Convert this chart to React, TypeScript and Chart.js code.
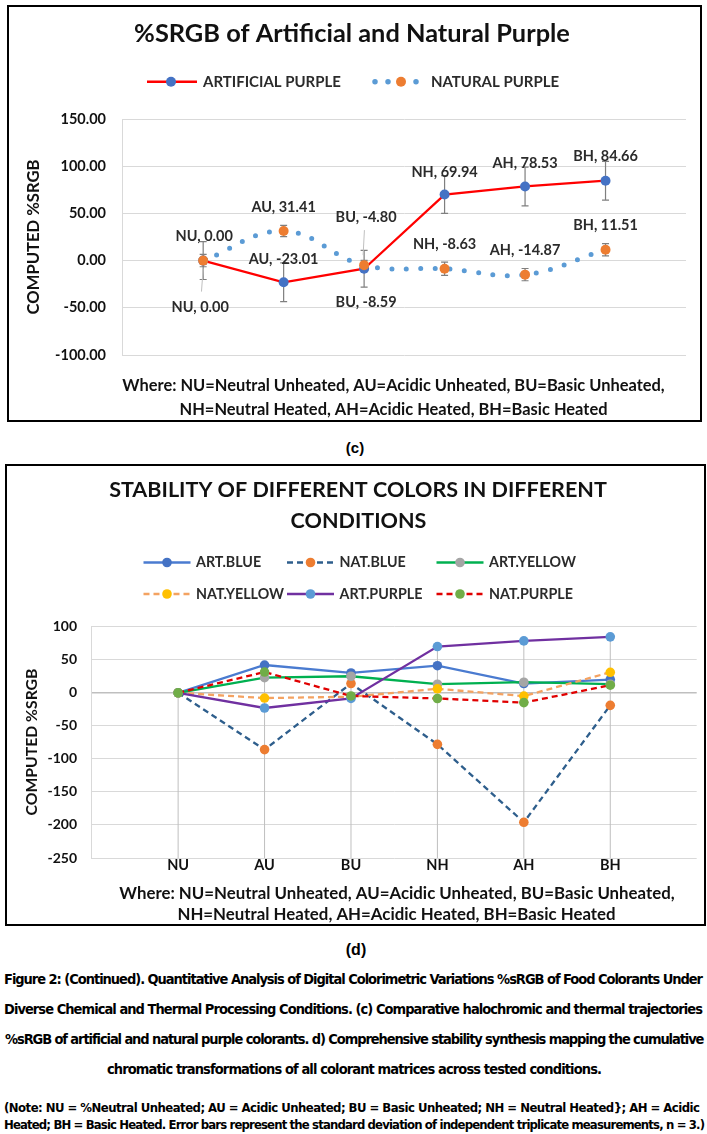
import React, { useEffect, useRef } from 'react';
import { Chart, registerables } from 'chart.js';
Chart.register(...registerables);

if (typeof document !== 'undefined') {
  document.body.style.margin = '0';
}

// ---------------- DATA ----------------
const CATEGORIES = ['NU', 'AU', 'BU', 'NH', 'AH', 'BH'];

// (c) %SRGB of artificial and natural purple
const ARTIFICIAL_PURPLE = [0.0, -23.01, -8.59, 69.94, 78.53, 84.66];
const NATURAL_PURPLE = [0.0, 31.41, -4.8, -8.63, -14.87, 11.51];
const ARTIFICIAL_PURPLE_SD = [20, 20.5, 19.5, 20, 20.5, 20.5];
const NATURAL_PURPLE_SD = [6.5, 6, 5, 7, 6.5, 6.5];
const C_Y_TICKS = [-100, -50, 0, 50, 100, 150];

// (d) stability of all colours
const D_SERIES_NAMES = ['ART.BLUE', 'NAT.BLUE', 'ART.YELLOW', 'NAT.YELLOW', 'ART.PURPLE', 'NAT.PURPLE'];
const ART_BLUE = [0, 42, 30, 41, 14, 20];
const NAT_BLUE = [0, -86, 14, -78, -196, -19];
const ART_YELLOW = [0, 23, 25, 13, 16, 13];
const NAT_YELLOW = [0, -8, -6, 6, -5, 31];
const ART_PURPLE_D = [0.0, -23.01, -8.59, 69.94, 78.53, 84.66];
const NAT_PURPLE_D = [0.0, 31.41, -4.8, -8.63, -14.87, 11.51];
const D_Y_TICKS = [-250, -200, -150, -100, -50, 0, 50, 100];

// ---------------- TEXT ----------------
const TITLE_C = '%SRGB of Artificial and Natural Purple';
const LEGEND_C = ['ARTIFICIAL PURPLE', 'NATURAL PURPLE'];
const TITLE_D = ['STABILITY OF DIFFERENT COLORS IN DIFFERENT', 'CONDITIONS'];
const Y_TITLE = 'COMPUTED %SRGB';
const WHERE = [
  'Where: NU=Neutral Unheated, AU=Acidic Unheated, BU=Basic Unheated,',
  'NH=Neutral Heated, AH=Acidic Heated, BH=Basic Heated',
];
const CAPTION_LINES = [
  'Figure 2: (Continued). Quantitative Analysis of Digital Colorimetric Variations %sRGB of Food Colorants Under',
  'Diverse Chemical and Thermal Processing Conditions. (c) Comparative halochromic and thermal trajectories',
  '%sRGB of artificial and natural purple colorants. d) Comprehensive stability synthesis mapping the cumulative',
  'chromatic transformations of all colorant matrices across tested conditions.',
];
const NOTE_LINES = [
  '(Note: NU = %Neutral Unheated; AU = Acidic Unheated; BU = Basic Unheated; NH = Neutral Heated}; AH = Acidic',
  'Heated; BH = Basic Heated. Error bars represent the standard deviation of independent triplicate measurements, n = 3.)',
];

// ---------------- STYLE ----------------
const FONT = "Lato, 'Open Sans', 'DejaVu Sans', sans-serif";
const NARROW = "'Liberation Sans Narrow', 'Arial Narrow', 'DejaVu Sans Condensed', 'Liberation Sans', sans-serif";
const INK = '#111111';
const LABEL_INK = '#2b2b2b';
const GRID = '#D9D9D9';

// label placement for chart (c): offsets from the point, in px
const C_NAT_LABEL = [
  { dx: 1, dy: -24 },
  { dx: 0, dy: -24 },
  { dx: 2, dy: -48, leader: [0.3, -35, -1, -10] },
  { dx: 0, dy: -24 },
  { dx: 0, dy: -24 },
  { dx: 0, dy: -24 },
];
const C_ART_LABEL = [
  { dx: -3, dy: 47, leader: [-1.7, 31, 0, 8] },
  { dx: 0, dy: -23 },
  { dx: 2, dy: 34 },
  { dx: 0, dy: -22 },
  { dx: 0, dy: -23 },
  { dx: 0, dy: -24 },
];

const D_STYLES = [
  { line: '#4A7BD0', point: '#4472C4', dash: [] as number[] },
  { line: '#2E5E8C', point: '#ED7D31', dash: [6, 4] },
  { line: '#00B050', point: '#A5A5A5', dash: [] as number[] },
  { line: '#F4A261', point: '#FFC000', dash: [6, 4] },
  { line: '#7030A0', point: '#5B9BD5', dash: [] as number[] },
  { line: '#E00000', point: '#70AD47', dash: [6, 4] },
];

// ---------------- HELPERS ----------------
const toPts = (arr: number[]) => arr.map((v, i) => ({ x: i, y: v }));

function fitSize(ctx: CanvasRenderingContext2D, s: string, width: number, family = FONT, weight = 'bold') {
  ctx.font = `${weight} 100px ${family}`;
  return (100 * width) / ctx.measureText(s).width;
}

function drawFit(
  ctx: CanvasRenderingContext2D,
  s: string,
  x: number,
  y: number,
  width: number,
  color: string,
  align: CanvasTextAlign = 'center',
  size?: number
) {
  const sz = size ?? fitSize(ctx, s, width);
  ctx.font = `bold ${sz}px ${FONT}`;
  ctx.fillStyle = color;
  ctx.textAlign = align;
  ctx.textBaseline = 'middle';
  ctx.fillText(s, x, y);
  return sz;
}

function dot(ctx: CanvasRenderingContext2D, x: number, y: number, r: number, color: string) {
  ctx.beginPath();
  ctx.arc(x, y, r, 0, Math.PI * 2);
  ctx.fillStyle = color;
  ctx.fill();
}

// ---------------- CHART (c) ----------------
function buildC(canvas: HTMLCanvasElement) {
  const decor = {
    id: 'cDecor',
    beforeDatasetsDraw(chart: any) {
      const { ctx } = chart;
      const xs = chart.scales.x;
      const ys = chart.scales.y;
      ctx.save();
      ctx.strokeStyle = '#7F7F7F';
      ctx.lineWidth = 1.2;
      const bars = (vals: number[], sd: number[]) =>
        vals.forEach((v, i) => {
          const px = xs.getPixelForValue(i);
          const t = ys.getPixelForValue(v + sd[i]);
          const b = ys.getPixelForValue(v - sd[i]);
          ctx.beginPath();
          ctx.moveTo(px, t);
          ctx.lineTo(px, b);
          ctx.moveTo(px - 3.5, t);
          ctx.lineTo(px + 3.5, t);
          ctx.moveTo(px - 3.5, b);
          ctx.lineTo(px + 3.5, b);
          ctx.stroke();
        });
      bars(ARTIFICIAL_PURPLE, ARTIFICIAL_PURPLE_SD);
      bars(NATURAL_PURPLE, NATURAL_PURPLE_SD);
      ctx.restore();
    },
    afterDatasetsDraw(chart: any) {
      const { ctx } = chart;
      const xs = chart.scales.x;
      const ys = chart.scales.y;
      ctx.save();
      const labels = (vals: number[], cfg: any[]) =>
        vals.forEach((v, i) => {
          const px = xs.getPixelForValue(i);
          const py = ys.getPixelForValue(v);
          const c = cfg[i];
          if (c.leader) {
            ctx.strokeStyle = '#BFBFBF';
            ctx.lineWidth = 1;
            ctx.beginPath();
            ctx.moveTo(px + c.leader[0], py + c.leader[1]);
            ctx.lineTo(px + c.leader[2], py + c.leader[3]);
            ctx.stroke();
          }
          drawFit(ctx, `${CATEGORIES[i]}, ${v.toFixed(2)}`, px + c.dx, py + c.dy, 0, LABEL_INK, 'center', 14.5);
        });
      labels(NATURAL_PURPLE, C_NAT_LABEL);
      labels(ARTIFICIAL_PURPLE, C_ART_LABEL);
      ctx.restore();
    },
    afterDraw(chart: any) {
      const { ctx } = chart;
      ctx.save();
      // title
      drawFit(ctx, TITLE_C, 343, 27, 436, INK);
      // legend
      const ly = 74.7;
      ctx.strokeStyle = '#FF0000';
      ctx.lineWidth = 2.5;
      ctx.beginPath();
      ctx.moveTo(138, ly);
      ctx.lineTo(188, ly);
      ctx.stroke();
      dot(ctx, 162, ly, 5, '#4472C4');
      const ls = fitSize(ctx, LEGEND_C[0], 138);
      drawFit(ctx, LEGEND_C[0], 194, ly, 0, LABEL_INK, 'left', ls);
      [366, 379, 407].forEach((x) => dot(ctx, x, ly, 2.75, '#5B9BD5'));
      dot(ctx, 392, ly, 5, '#ED7D31');
      drawFit(ctx, LEGEND_C[1], 422, ly, 0, LABEL_INK, 'left', ls);
      // y title
      ctx.save();
      ctx.translate(25, 230);
      ctx.rotate(-Math.PI / 2);
      drawFit(ctx, Y_TITLE, 0, 0, 155, INK);
      ctx.restore();
      // footnote
      const fs = fitSize(ctx, WHERE[0], 543);
      drawFit(ctx, WHERE[0], 384.5, 379, 0, INK, 'center', fs);
      drawFit(ctx, WHERE[1], 384.5, 403, 0, INK, 'center', fs);
      ctx.restore();
    },
  };

  return new Chart(canvas, {
    type: 'line',
    data: {
      datasets: [
        {
          label: LEGEND_C[0],
          data: toPts(ARTIFICIAL_PURPLE),
          borderColor: '#FF0000',
          borderWidth: 2.25,
          pointRadius: 5,
          pointBorderWidth: 0,
          pointBackgroundColor: '#4472C4',
          pointBorderColor: '#4472C4',
          tension: 0,
          order: 1,
        },
        {
          label: LEGEND_C[1],
          data: toPts(NATURAL_PURPLE),
          borderColor: '#5B9BD5',
          borderWidth: 5,
          borderDash: [0, 14.5],
          borderCapStyle: 'round',
          tension: 0.4,
          pointRadius: 5,
          pointBorderWidth: 0,
          pointBackgroundColor: '#ED7D31',
          pointBorderColor: '#ED7D31',
          order: 0,
        },
      ] as any,
    },
    options: {
      responsive: false,
      animation: false,
      devicePixelRatio: 1,
      layout: { padding: { left: 0, top: 112, right: 14, bottom: 65 } },
      plugins: { legend: { display: false }, title: { display: false }, tooltip: { enabled: false } },
      scales: {
        x: { type: 'linear', min: -1, max: 6, display: false },
        y: {
          min: -100,
          max: 150,
          afterBuildTicks: (s: any) => {
            s.ticks = C_Y_TICKS.map((v) => ({ value: v }));
          },
          afterFit: (s: any) => {
            s.width = 113.7;
          },
          ticks: {
            callback: (v: any) => Number(v).toFixed(2),
            font: { family: FONT, size: 14.5, weight: 'bold' },
            color: INK,
            padding: 16.7,
          },
          grid: { color: GRID, lineWidth: 1, drawTicks: false },
          border: { display: true, color: GRID, width: 1 },
        },
      },
    } as any,
    plugins: [decor],
  });
}

// ---------------- CHART (d) ----------------
function buildD(canvas: HTMLCanvasElement) {
  const seriesValues = [ART_BLUE, NAT_BLUE, ART_YELLOW, NAT_YELLOW, ART_PURPLE_D, NAT_PURPLE_D];
  const decor = {
    id: 'dDecor',
    beforeDatasetsDraw(chart: any) {
      const { ctx } = chart;
      const xs = chart.scales.x;
      const ys = chart.scales.y;
      ctx.save();
      ctx.strokeStyle = '#BFBFBF';
      ctx.lineWidth = 1;
      CATEGORIES.forEach((_, i) => {
        const top = Math.max(...seriesValues.map((s) => s[i]));
        const px = xs.getPixelForValue(i);
        ctx.beginPath();
        ctx.moveTo(px, ys.getPixelForValue(top));
        ctx.lineTo(px, ys.getPixelForValue(ys.min));
        ctx.stroke();
      });
      ctx.restore();
    },
    afterDraw(chart: any) {
      const { ctx } = chart;
      const xs = chart.scales.x;
      ctx.save();
      // title
      const ts = fitSize(ctx, TITLE_D[0], 498);
      drawFit(ctx, TITLE_D[0], 351, 24, 0, INK, 'center', ts);
      drawFit(ctx, TITLE_D[1], 351.5, 54.7, 0, INK, 'center', ts);
      // legend
      const cols = [136.5, 280, 429.5];
      const rows = [96.5, 128];
      const ls = fitSize(ctx, D_SERIES_NAMES[2], 87);
      D_SERIES_NAMES.forEach((name, i) => {
        const st = D_STYLES[i];
        const x = cols[i % 3];
        const y = rows[Math.floor(i / 3)];
        ctx.strokeStyle = st.line;
        ctx.lineWidth = 2.5;
        ctx.setLineDash(st.dash);
        ctx.beginPath();
        ctx.moveTo(x, y);
        ctx.lineTo(x + 47, y);
        ctx.stroke();
        ctx.setLineDash([]);
        dot(ctx, x + 23.5, y, 4.8, st.point);
        drawFit(ctx, name, x + 52.5, y, 0, LABEL_INK, 'left', ls);
      });
      // x labels
      CATEGORIES.forEach((c, i) => {
        drawFit(ctx, c, xs.getPixelForValue(i), 399, 0, INK, 'center', 14.5);
      });
      // y title
      ctx.save();
      ctx.translate(24.7, 276);
      ctx.rotate(-Math.PI / 2);
      drawFit(ctx, Y_TITLE, 0, 0, 147, INK);
      ctx.restore();
      // footnote
      const fs = fitSize(ctx, WHERE[0], 556);
      drawFit(ctx, WHERE[0], 390, 428, 0, INK, 'center', fs);
      drawFit(ctx, WHERE[1], 389.5, 449, 0, INK, 'center', fs);
      ctx.restore();
    },
  };

  return new Chart(canvas, {
    type: 'line',
    data: {
      datasets: seriesValues.map((vals, i) => ({
        label: D_SERIES_NAMES[i],
        data: toPts(vals),
        borderColor: D_STYLES[i].line,
        borderWidth: 2.3,
        borderDash: D_STYLES[i].dash,
        pointRadius: 4.8,
        pointBorderWidth: 0,
        pointBackgroundColor: D_STYLES[i].point,
        pointBorderColor: D_STYLES[i].point,
        tension: 0,
        order: D_SERIES_NAMES.length - 1 - i,
      })) as any,
    },
    options: {
      responsive: false,
      animation: false,
      devicePixelRatio: 1,
      layout: { padding: { left: 0, top: 160.7, right: 7.3, bottom: 66 } },
      plugins: { legend: { display: false }, title: { display: false }, tooltip: { enabled: false } },
      scales: {
        x: { type: 'linear', min: -1, max: 6, display: false },
        y: {
          min: -250,
          max: 100,
          afterBuildTicks: (s: any) => {
            s.ticks = D_Y_TICKS.map((v) => ({ value: v }));
          },
          afterFit: (s: any) => {
            s.width = 84.7;
          },
          ticks: {
            callback: (v: any) => String(v),
            font: { family: FONT, size: 14, weight: 'bold' },
            color: INK,
            padding: 14.7,
          },
          grid: {
            color: (c: any) => (c.tick && c.tick.value === 0 ? '#BFBFBF' : GRID),
            lineWidth: (c: any) => (c.tick && c.tick.value === 0 ? 1.6 : 1),
            drawTicks: false,
          },
          border: { display: true, color: GRID, width: 1 },
        },
      },
    } as any,
    plugins: [decor],
  });
}

// ---------------- COMPONENTS ----------------
function ChartBox(props: { left: number; top: number; width: number; height: number; build: (c: HTMLCanvasElement) => Chart }) {
  const ref = useRef<HTMLCanvasElement>(null);
  const { left, top, width, height, build } = props;
  useEffect(() => {
    const chart = build(ref.current as HTMLCanvasElement);
    return () => chart.destroy();
  }, []);
  const iw = width - 4;
  const ih = height - 4;
  return (
    <div
      style={{
        position: 'absolute',
        left,
        top,
        width,
        height,
        border: '2px solid #000',
        boxSizing: 'border-box',
        background: '#fff',
      }}
    >
      <canvas ref={ref} width={iw} height={ih} style={{ display: 'block', width: iw, height: ih }} />
    </div>
  );
}

const measureCtx: CanvasRenderingContext2D | null =
  typeof document !== 'undefined' ? document.createElement('canvas').getContext('2d') : null;

function TextLine(props: { text: string; left: number; width: number; cy: number; size: number }) {
  const { text, left, width, cy, size } = props;
  let ls = 0;
  if (measureCtx) {
    measureCtx.font = `bold ${size}px ${NARROW}`;
    const w = measureCtx.measureText(text).width;
    ls = (width - w) / Math.max(1, text.length - 1);
  }
  return (
    <div
      style={{
        position: 'absolute',
        left,
        top: cy - size * 0.6,
        whiteSpace: 'nowrap',
        font: `bold ${size}px ${NARROW}`,
        lineHeight: `${size * 1.2}px`,
        letterSpacing: `${ls}px`,
        color: '#000',
      }}
    >
      {text}
    </div>
  );
}

function Label(props: { text: string; cx: number; cy: number; size: number }) {
  return (
    <div
      style={{
        position: 'absolute',
        left: props.cx - 50,
        width: 100,
        top: props.cy - props.size * 0.6,
        textAlign: 'center',
        font: `bold ${props.size}px 'Liberation Sans', Arial, sans-serif`,
        lineHeight: `${props.size * 1.2}px`,
        color: '#000',
      }}
    >
      {props.text}
    </div>
  );
}

export default function App() {
  return (
    <div style={{ position: 'relative', width: 707, height: 1134, background: '#fff', overflow: 'hidden' }}>
      <ChartBox left={7} top={5} width={695} height={417} build={buildC} />
      <Label text="(c)" cx={355} cy={448} size={15} />
      <ChartBox left={5} top={464} width={701} height={462} build={buildD} />
      <Label text="(d)" cx={356} cy={950} size={16} />
      <TextLine text={CAPTION_LINES[0]} left={4} width={699} cy={980} size={14.5} />
      <TextLine text={CAPTION_LINES[1]} left={4} width={699} cy={1010} size={14.5} />
      <TextLine text={CAPTION_LINES[2]} left={5} width={699} cy={1040} size={14.5} />
      <TextLine text={CAPTION_LINES[3]} left={107} width={495} cy={1070} size={14.5} />
      <TextLine text={NOTE_LINES[0]} left={4} width={696} cy={1108} size={13} />
      <TextLine text={NOTE_LINES[1]} left={4} width={701} cy={1125} size={13} />
    </div>
  );
}
